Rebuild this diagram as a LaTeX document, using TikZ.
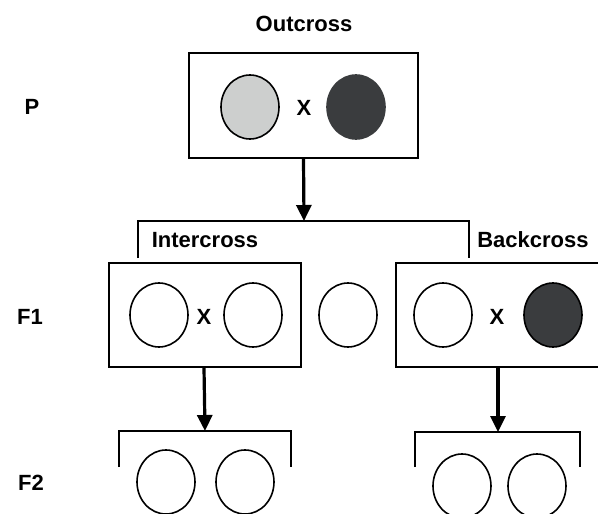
\documentclass[tikz,border=0pt]{standalone}
\usepackage{fontspec}
\setmainfont{Liberation Sans}
\usepackage{tikz}
\usetikzlibrary{arrows.meta,positioning,shapes.geometric}
\definecolor{lightcoat}{HTML}{CDCFCE}
\definecolor{darkcoat}{HTML}{3A3C3E}
\tikzset{
  crossbox/.style={
    rectangle, draw=black, line width=1.8pt,
    minimum width=#1, minimum height=104pt, inner sep=0pt
  },
  crossbox/.default=192pt,
  animal/.style={
    ellipse, draw=black, fill=#1, line width=1.6pt,
    minimum width=58pt, minimum height=64pt, inner sep=0pt
  },
  animal/.default=white,
  genlabel/.style={
    font=\bfseries\fontsize{22}{24}\selectfont, inner sep=0pt
  },
  crossarrow/.style={
    -{Triangle[length=16pt,width=15pt]}, line width=3.2pt
  },
  bracketline/.style={line width=1.8pt},
}

\begin{document}
\begin{tikzpicture}[x=1pt,y=-1pt]
  \clip (0,0) rectangle (598,514);
  \fill[white] (0,0) rectangle (598,514);

  % Generation labels
  \node[genlabel] (gp)  at (32,107) {P};
  \node[genlabel] (gf1) at (30,317) {F1};
  \node[genlabel] (gf2) at (31,483) {F2};

  % Parental outcross
  \node[genlabel] (outlbl) at (304,24) {Outcross};
  \node[crossbox=229pt, minimum height=105pt] (pbox) at (303.5,105.5) {};
  \node[animal=lightcoat] (pa) at (250,107) {};
  \node[animal=darkcoat, draw=darkcoat] (pb) at (356,107) {};
  \node[genlabel] (px) at (304,108) {X};

  % Split towards the two F1 crosses
  \coordinate (split) at (304,221);
  \coordinate (splitl) at (138,221);
  \coordinate (splitr) at (469,221);
  \draw[crossarrow] (pbox.south) -- (split);
  \draw[bracketline] ([yshift=-37pt]splitl) -- (splitl) -- (splitr) -- ([yshift=-37pt]splitr);
  \node[genlabel] (interlbl) at (205,240) {Intercross};
  \node[genlabel] (backlbl) at (533,240) {Backcross};

  % F1 intercross, single F1 and backcross
  \node[crossbox] (ibox) at (205,315) {};
  \node[animal] (ia) at (159,315) {};
  \node[animal] (ib) at (253,315) {};
  \node[genlabel] (ix) at (204,317) {X};
  \node[animal] (fa) at (348,315) {};
  \node[crossbox=210pt] (bbox) at (501,315) {};
  \node[animal] (ba) at (443,315) {};
  \node[animal=darkcoat] (bb) at (553,315) {};
  \node[genlabel] (bx) at (497,317) {X};

  % F2 offspring
  \coordinate (f2l) at (205,431);
  \coordinate (f2r) at (498,432);
  \draw[crossarrow] (ix |- ibox.south) -- (f2l);
  \draw[crossarrow] (f2r |- bbox.south) -- (f2r);
  \draw[bracketline] (119,467) -- (119,431) -- (291,431) -- (291,467);
  \draw[bracketline] (415,467) -- (415,432) -- (580,432) -- (580,467);
  \foreach \cx/\cy/\n in {166/482/la, 245/482/lb, 462/486/ra, 537/486/rb} {
    \node[animal] (f2\n) at (\cx,\cy) {};
  }
\end{tikzpicture}
\end{document}
